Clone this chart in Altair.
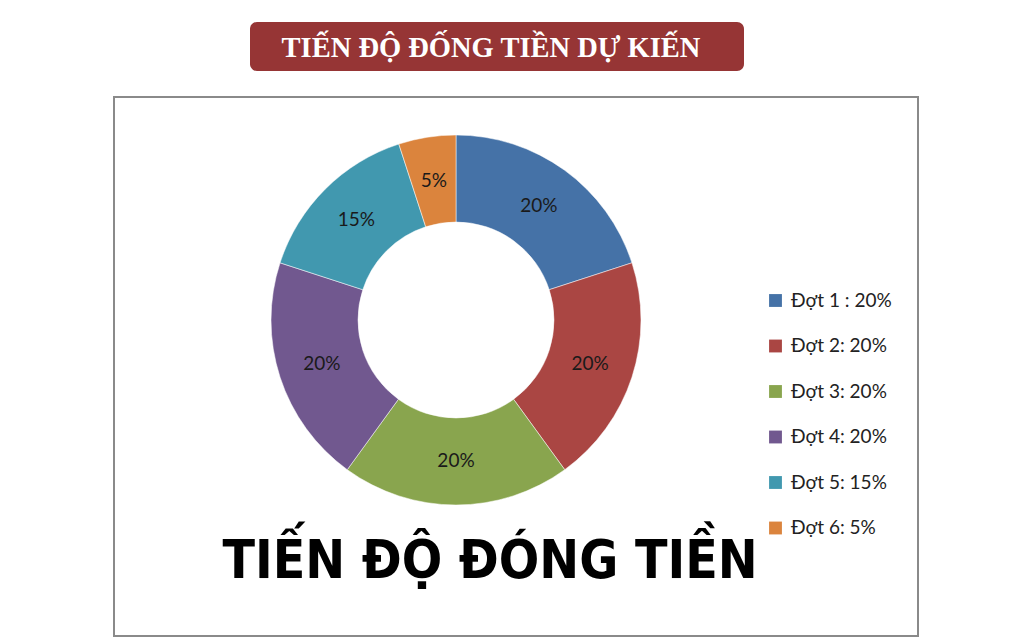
import altair as alt
import pandas as pd

categories = ["Đợt 1 : 20%", "Đợt 2: 20%", "Đợt 3: 20%", "Đợt 4: 20%", "Đợt 5: 15%", "Đợt 6: 5%"]
values = [20, 20, 20, 20, 15, 5]
slice_labels = ["20%", "20%", "20%", "20%", "15%", "5%"]
colors = ["#4572A7", "#AA4643", "#89A54E", "#71588F", "#4198AF", "#DB843D"]

banner_title = "TIẾN ĐỘ ĐỐNG TIỀN DỰ KIẾN"
big_title = "TIẾN ĐỘ ĐÓNG TIỀN"

df = pd.DataFrame({
    "cat": categories,
    "value": values,
    "label": slice_labels,
    "order": list(range(len(categories))),
})

one = pd.DataFrame({"a": [0]})

frame = alt.Chart(one).mark_rect(fill="white", stroke="#8a8a8a", strokeWidth=2).encode(
    x=alt.value(106), x2=alt.value(910), y=alt.value(89), y2=alt.value(628)
)

banner = alt.Chart(one).mark_rect(fill="#963535", cornerRadius=7).encode(
    x=alt.value(242), x2=alt.value(736), y=alt.value(14), y2=alt.value(63)
)

banner_text = alt.Chart(one).mark_text(
    text=banner_title, font="Liberation Serif", fontWeight="bold", fontSize=28.5,
    color="white", align="center", baseline="middle"
).encode(x=alt.value(483), y=alt.value(40))

cx, cy = 448, 312

theta = alt.Theta("value:Q", stack=True)
color = alt.Color(
    "cat:N",
    scale=alt.Scale(domain=categories, range=colors),
    sort=categories,
    legend=alt.Legend(
        title=None, orient="none", legendX=758, legendY=283,
        symbolType="square", symbolSize=165, symbolStrokeWidth=0,
        labelFont="Lato", labelFontSize=19, labelColor="#222222",
        rowPadding=25.5, labelOffset=6,
    ),
)

base = alt.Chart(df).encode(theta=theta, order=alt.Order("order:Q"))

arcs = base.mark_arc(outerRadius=185, innerRadius=98, stroke="white", strokeWidth=0.5).encode(
    color=color, x=alt.value(cx), y=alt.value(cy)
)

labels = base.mark_text(radius=141, font="Lato", fontSize=19, color="#1a1a1a").encode(
    text="label:N", x=alt.value(cx), y=alt.value(cy)
)

big = alt.Chart(one).mark_text(
    text=big_title, font="DejaVu Sans Condensed", fontWeight="bold", fontSize=53,
    color="black", align="center", baseline="alphabetic"
).encode(x=alt.value(482), y=alt.value(570))

chart = alt.layer(frame, banner, banner_text, arcs, labels, big).properties(
    width=1008, height=630, padding=0, autosize=alt.AutoSizeParams(type="none")
).configure_view(stroke=None)

chart.save("out.html", embed_options={"renderer": "svg", "actions": False})
